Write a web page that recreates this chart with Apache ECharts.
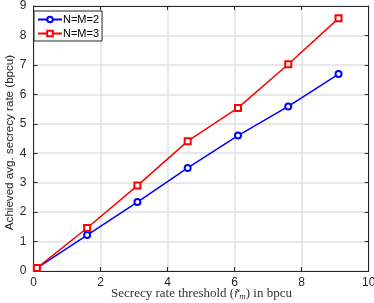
<!DOCTYPE html>
<html><head><meta charset="utf-8">
<script src="https://cdn.jsdelivr.net/npm/echarts@6/dist/echarts.min.js"></script>
<style>html,body{margin:0;padding:0;background:#fff}#c{width:374px;height:303px}</style>
</head><body><div id="c"></div>
<script>
const thresholds = [0.1, 1.6, 3.1, 4.6, 6.1, 7.6, 9.1];
const rateNM2 = [0.1, 1.22, 2.34, 3.5, 4.60, 5.59, 6.69];
const rateNM3 = [0.1, 1.46, 2.90, 4.41, 5.54, 7.02, 8.58];
const seriesNames = ['N=M=2', 'N=M=3'];
const xTitle = '{a|Secrecy rate threshold (}{i|r̃}{s|m}{a|) in bpcu}';
const yTitle = 'Achieved avg. secrecy rate (bpcu)';

const chart = echarts.init(document.getElementById('c'));
const axisColor = '#262626';
const sans = 'Liberation Sans';
const serif = 'Liberation Serif';
const tick = {show: true, inside: true, length: 4, lineStyle: {color: axisColor}};
const line = {show: true, onZero: false, lineStyle: {color: axisColor, width: 1}};
const grid = {show: true, lineStyle: {color: '#e0e0e0', width: 1.5}};
chart.setOption({
  animation: false,
  grid: {left: 33.5, right: 5.3, top: 6, bottom: 32, containLabel: false, outerBoundsMode: 'none'},
  legend: {
    orient: 'vertical', left: 34, top: 11, padding: [3, 3, 2, 3], itemGap: 3,
    itemWidth: 24, itemHeight: 7,
    borderColor: '#262626', borderWidth: 1, backgroundColor: '#fff',
    textStyle: {fontSize: 11, color: '#000', fontFamily: sans, padding: [0, 0, 0, -4]},
    data: seriesNames
  },
  graphic: [{
    type: 'text', x: 10, y: 142.5, rotation: Math.PI / 2,
    style: {text: yTitle, align: 'center', verticalAlign: 'middle',
      fill: '#262626', font: '11.6px "Liberation Sans"'}
  }, {
    type: 'text', x: 201.5, y: 294,
    style: {text: xTitle, align: 'center', verticalAlign: 'middle', fill: '#333',
      rich: {
        a: {fontFamily: serif, fontSize: 13, fill: '#333'},
        i: {fontFamily: serif, fontStyle: 'italic', fontSize: 13, fill: '#333'},
        s: {fontFamily: serif, fontStyle: 'italic', fontSize: 9, fill: '#333', padding: [6, 0, 0, 0]}
      }}
  }],
  xAxis: [{
    type: 'value', min: 0, max: 10, interval: 2,
    axisLine: line, axisTick: tick, splitLine: grid,
    axisLabel: {color: axisColor, fontSize: 12, margin: 6, fontFamily: sans}
  }, {
    type: 'value', min: 0, max: 10, interval: 2, position: 'top',
    axisLine: line, axisTick: tick, axisLabel: {show: false}, splitLine: {show: false}
  }],
  yAxis: [{
    type: 'value', min: 0, max: 9, interval: 1,
    axisLine: line, axisTick: tick, splitLine: grid,
    axisLabel: {color: axisColor, fontSize: 12, margin: 7, fontFamily: sans}
  }, {
    type: 'value', min: 0, max: 9, interval: 1, position: 'right',
    axisLine: line, axisTick: tick, axisLabel: {show: false}, splitLine: {show: false}
  }],
  series: [{
    name: seriesNames[0], type: 'line',
    data: thresholds.map((x, i) => [x, rateNM2[i]]),
    symbol: 'emptyCircle', symbolSize: 6,
    lineStyle: {color: '#0000ff', width: 1.5},
    itemStyle: {color: '#0000ff', borderWidth: 1.5}
  }, {
    name: seriesNames[1], type: 'line',
    data: thresholds.map((x, i) => [x, rateNM3[i]]),
    symbol: 'emptyRect', symbolSize: 6,
    lineStyle: {color: '#ff0000', width: 1.5},
    itemStyle: {color: '#ff0000', borderWidth: 1.5}
  }]
});
</script></body></html>
